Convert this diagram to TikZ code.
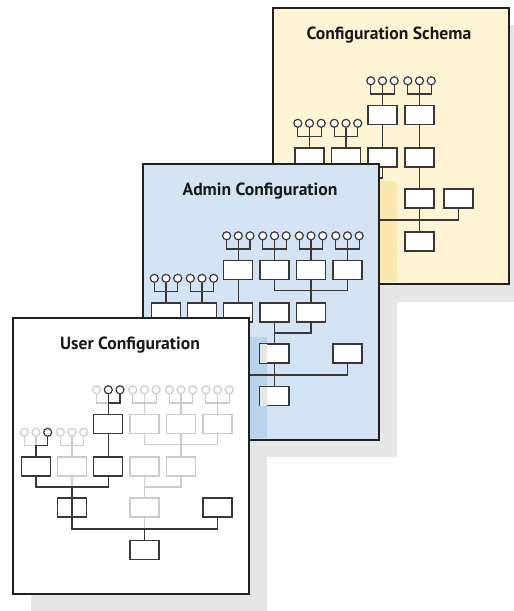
\documentclass[tikz,border=0pt]{standalone}
\usepackage{fontspec}
\setsansfont{PT Sans}
\usetikzlibrary{positioning}

\definecolor{schemaFill}{HTML}{FFF4D4}
\definecolor{schemaShade}{HTML}{FBE8AF}
\definecolor{adminFill}{HTML}{D3E3F4}
\definecolor{adminShade}{HTML}{B8D3EC}
\definecolor{shadowGray}{HTML}{E6E6E6}
\definecolor{boxShade}{HTML}{E6E6E6}
\definecolor{frameLine}{HTML}{202020}
\definecolor{lineDark}{HTML}{383838}
\definecolor{lineFaint}{HTML}{CCCCCC}

% three leaves over a box: box, left, centre, right, stem
\newcommand{\leafset}[5]{%
  \node[leaf, #3, above=19.5pt of #1] (#1-c) {};
  \node[leaf, #2, left=2.5pt of #1-c] (#1-l) {};
  \node[leaf, #4, right=2.5pt of #1-c] (#1-r) {};
  \coordinate (#1-j) at ([yshift=11pt]#1.north);
  \draw[link, #2] (#1-l) |- (#1-j);
  \draw[link, #4] (#1-r) |- (#1-j);
  \draw[link, #3] (#1-c) -- (#1-j);
  \draw[link, #5] (#1-j) -- (#1);
}

\begin{document}
\begin{tikzpicture}[
    x=1pt, y=-1pt,
    panel/.style={rectangle, draw=frameLine, line width=1.5pt, minimum width=236pt, minimum height=276pt, anchor=north west, inner sep=0pt},
    title/.style={anchor=base, text=black!90, font=\sffamily\bfseries\fontsize{17.6}{21}\selectfont},
    entry/.style={rectangle, draw=lineDark, fill=white, line width=1.2pt, minimum width=29pt, minimum height=19pt, inner sep=0pt},
    leaf/.style={circle, draw=lineDark, fill=white, line width=1.2pt, minimum size=8pt, inner sep=0pt},
    link/.style={draw=lineDark, line width=1.2pt},
    lit/.style={draw=lineDark},
    faint/.style={draw=lineFaint}
]
    \useasboundingbox (0,0) rectangle (514,611);

    % Shadows
    \fill[shadowGray] (291,25) rectangle ++(236,277);
    \fill[shadowGray] (161,181) rectangle ++(236,276);
    \fill[shadowGray] (31,336) rectangle ++(236,277);

    % Configuration schema
    \begin{scope}[shift={(272,7)}]
        \node[panel, fill=schemaFill] (schema) at (0,0) {};
        \fill[schemaShade] (100,173.5) rectangle (125,275.25);
        \node[title] (s-title) at (117,32.5) {Configuration Schema};
        % Nodes
        \node[entry] (s-t1) at (110.5,108) {};
        \node[entry] (s-t2) at (147.5,108) {};
        \node[entry] (s-m1) at (37.5,150.5) {};
        \node[entry] (s-m2) at (74,150.5) {};
        \node[entry] (s-m3) at (110.5,150.5) {};
        \node[entry] (s-m4) at (147.5,150.5) {};
        \node[entry] (s-b1) at (74,191.5) {};
        \node[entry] (s-b2) at (147.5,191.5) {};
        \node[entry] (s-b3) at (186.5,191.5) {};
        \node[entry] (s-root) at (147.5,234.5) {};
        \coordinate (s-jm) at (74,171);
        \coordinate (s-jb) at (147.5,213);
        % Leaves
        \leafset{s-t1}{lit}{lit}{lit}{lit}
        \leafset{s-t2}{lit}{lit}{lit}{lit}
        \leafset{s-m1}{lit}{lit}{lit}{lit}
        \leafset{s-m2}{lit}{lit}{lit}{lit}
        % Edges
        \draw[link] (s-t1) -- (s-m3);
        \draw[link] (s-t2) -- (s-m4);
        \draw[link] (s-m4) -- (s-b2);
        \draw[link] (s-m1) |- (s-jm) -| (s-m3);
        \draw[link] (s-m2) -- (s-b1.south);
        \draw[link] (s-b1.south) |- (s-jb) -| (s-b3);
        \draw[link] (s-b2) -- (s-root);
    \end{scope}

    % Admin configuration
    \begin{scope}[shift={(142,163)}]
        \node[panel, fill=adminFill] (admin) at (0,0) {};
        \fill[adminShade] (100,173.5) rectangle (125,275.25);
        \node[title] (a-title) at (118,32.5) {Admin Configuration};
        % Nodes
        \node[entry] (a-t1) at (96.3,107) {};
        \node[entry] (a-t2) at (132.5,107) {};
        \node[entry] (a-t3) at (169,107) {};
        \node[entry] (a-t4) at (205.5,107) {};
        \node[entry] (a-m1) at (24,149.5) {};
        \node[entry] (a-m2) at (60,149.5) {};
        \node[entry] (a-m3) at (96.3,149.5) {};
        \node[entry] (a-m4) at (132.5,149.5) {};
        \node[entry] (a-m5) at (169,149.5) {};
        \node[entry] (a-b1) at (60,190.5) {};
        \node[entry] (a-b2) at (132.5,190.5) {};
        \node[entry] (a-b3) at (205.5,190.5) {};
        \node[entry] (a-root) at (132.5,233) {};
        \coordinate (a-jt) at (169,127.5);
        \coordinate (a-jm1) at (60,170);
        \coordinate (a-jm2) at (132.5,170);
        \coordinate (a-jb) at (132.5,212);
        % Leaves
        \leafset{a-t1}{lit}{lit}{lit}{lit}
        \leafset{a-t2}{lit}{lit}{lit}{lit}
        \leafset{a-t3}{lit}{lit}{lit}{lit}
        \leafset{a-t4}{lit}{lit}{lit}{lit}
        \leafset{a-m1}{lit}{lit}{lit}{lit}
        \leafset{a-m2}{lit}{lit}{lit}{lit}
        % Edges
        \draw[link] (a-t1) -- (a-m3);
        \draw[link] (a-t2) |- (a-jt) -| (a-t4);
        \draw[link] (a-t3) -- (a-m5);
        \draw[link] (a-m1) |- (a-jm1) -| (a-m3);
        \draw[link] (a-m2) -- (a-b1.south);
        \draw[link] (a-m4) -- (a-b2);
        \draw[link] (a-jm2) -| (a-m5);
        \draw[link] (a-b1.south) |- (a-jb) -| (a-b3);
        \draw[link] (a-b2) -- (a-root);
        % shade of the user panel over two boxes
        \begin{scope}
            \clip (100,173.5) rectangle (125,275);
            \fill[boxShade] ([shift={(0.6pt,0.6pt)}]a-b2.south west) rectangle ([shift={(-0.6pt,-0.6pt)}]a-b2.north east);
            \fill[boxShade] ([shift={(0.6pt,0.6pt)}]a-root.south west) rectangle ([shift={(-0.6pt,-0.6pt)}]a-root.north east);
        \end{scope}
    \end{scope}

    % User configuration
    \begin{scope}[shift={(12,317)}]
        \node[panel, fill=white] (user) at (0,0) {};
        \node[title] (u-title) at (118,32.5) {User Configuration};
        % Nodes
        \node[entry] (u-t1) at (96.3,107) {};
        \node[entry, faint] (u-t2) at (132.5,107) {};
        \node[entry, faint] (u-t3) at (169,107) {};
        \node[entry, faint] (u-t4) at (205.5,107) {};
        \node[entry] (u-m1) at (24,149.5) {};
        \node[entry, faint] (u-m2) at (60,149.5) {};
        \node[entry] (u-m3) at (96.3,149.5) {};
        \node[entry, faint] (u-m4) at (132.5,149.5) {};
        \node[entry, faint] (u-m5) at (169,149.5) {};
        \node[entry] (u-b1) at (60,190.5) {};
        \node[entry, faint] (u-b2) at (132.5,190.5) {};
        \node[entry] (u-b3) at (205.5,190.5) {};
        \node[entry] (u-root) at (132.5,233) {};
        \coordinate (u-jt) at (169,127.5);
        \coordinate (u-jm1) at (60,170);
        \coordinate (u-jm2) at (132.5,170);
        \coordinate (u-jb) at (132.5,212);
        % Leaves
        \leafset{u-t1}{faint}{lit}{lit}{lit}
        \leafset{u-t2}{faint}{faint}{faint}{faint}
        \leafset{u-t3}{faint}{faint}{faint}{faint}
        \leafset{u-t4}{faint}{faint}{faint}{faint}
        \leafset{u-m1}{faint}{faint}{lit}{lit}
        \leafset{u-m2}{faint}{faint}{faint}{faint}
        % Edges
        \draw[link, faint] (u-t2) |- (u-jt) -| (u-t4);
        \draw[link, faint] (u-t3) -- (u-m5);
        \draw[link, faint] (u-m2) -- (u-jm1);
        \draw[link, faint] (u-m4) -- (u-b2);
        \draw[link, faint] (u-jm2) -| (u-m5);
        \draw[link, faint] (u-b2) -- (u-jb);
        \draw[link] (u-t1) -- (u-m3);
        \draw[link] (u-m1) |- (u-jm1) -| (u-m3);
        \draw[link] (u-jm1) -- (u-b1.south);
        \draw[link] (u-b1.south) |- (u-jb) -| (u-b3);
        \draw[link] (u-jb) -- (u-root);
    \end{scope}
\end{tikzpicture}
\end{document}
